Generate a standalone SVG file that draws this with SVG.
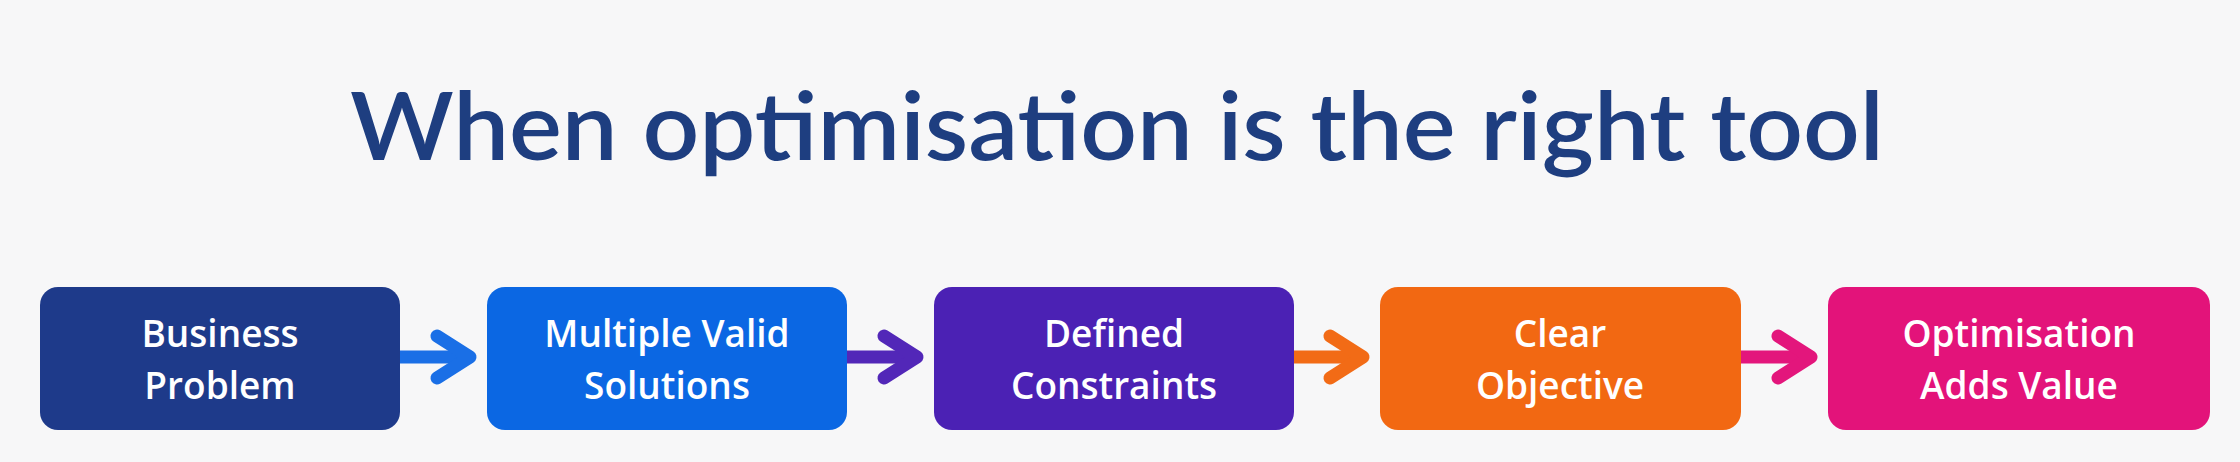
<svg xmlns="http://www.w3.org/2000/svg" width="2240" height="462" viewBox="0 0 2240 462">
<defs>
<style>
.title{font-family:Lato,"Open Sans","Liberation Sans",sans-serif;font-weight:600;font-size:94px;fill:#1e3e80}
.lbl{font-family:"Open Sans",Lato,"Liberation Sans",sans-serif;font-weight:600;font-size:37px;fill:#ffffff;text-anchor:middle}
.arr{fill:none;stroke-width:13;stroke-linecap:round;stroke-linejoin:round}
</style>
</defs>
<rect width="2240" height="462" fill="#f7f7f8"/>
<text class="title" x="350" y="160" textLength="1534" lengthAdjust="spacingAndGlyphs">When optimisation is the right tool</text>
<g id="connectors">
<g class="arr" stroke="#1a6fe6"><path d="M400 357H466"/><path d="M437 336L470 357L437 378"/></g>
<g class="arr" stroke="#5227b8"><path d="M847 357H913"/><path d="M884 336L917 357L884 378"/></g>
<g class="arr" stroke="#f26b16"><path d="M1294 357H1359"/><path d="M1330 336L1363 357L1330 378"/></g>
<g class="arr" stroke="#e3167c"><path d="M1741 357H1807"/><path d="M1778 336L1811 357L1778 378"/></g>
</g>
<g id="n1"><rect x="40" y="287" width="360" height="143" rx="18" fill="#1e3a8a"/><text class="lbl" x="220" y="347">Business</text><text class="lbl" x="220" y="399">Problem</text></g>
<g id="n2"><rect x="487" y="287" width="360" height="143" rx="18" fill="#0b67e3"/><text class="lbl" x="667" y="347">Multiple Valid</text><text class="lbl" x="667" y="399">Solutions</text></g>
<g id="n3"><rect x="934" y="287" width="360" height="143" rx="18" fill="#4b21b4"/><text class="lbl" x="1114" y="347">Defined</text><text class="lbl" x="1114" y="399">Constraints</text></g>
<g id="n4"><rect x="1380" y="287" width="361" height="143" rx="18" fill="#f26812"/><text class="lbl" x="1560" y="347">Clear</text><text class="lbl" x="1560" y="399">Objective</text></g>
<g id="n5"><rect x="1828" y="287" width="382" height="143" rx="18" fill="#e3137a"/><text class="lbl" x="2019" y="347">Optimisation</text><text class="lbl" x="2019" y="399">Adds Value</text></g>
</svg>
